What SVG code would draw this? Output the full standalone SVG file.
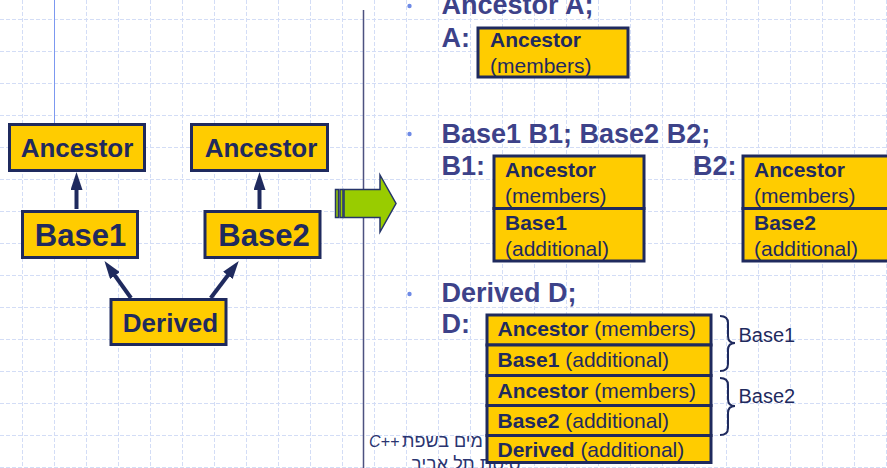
<svg xmlns="http://www.w3.org/2000/svg" width="887" height="468" viewBox="0 0 887 468">
<style>
.grid{stroke:#d3ddf6;stroke-width:1;stroke-dasharray:4 2;fill:none}
.node{fill:#ffcc00;stroke:#1f2a5e;stroke-width:3}
.nt{font-family:"Liberation Sans",Arial,sans-serif;font-weight:bold;fill:#1f2a5e;text-anchor:middle}
.h{font-family:"Liberation Sans",Arial,sans-serif;font-weight:bold;font-size:27px;fill:#3d4289}
.bt{font-family:"Liberation Sans",Arial,sans-serif;font-size:21px;fill:#1f2a5e}
.b{font-weight:bold}
.lbl{font-family:"Liberation Sans",Arial,sans-serif;font-size:20px;fill:#1f2a5e}
.foot{font-family:"Liberation Sans","DejaVu Sans",sans-serif;fill:#2a3470}
.conn{stroke:#1f2a5e;stroke-width:4;fill:none;marker-end:url(#head)}
.brace{stroke:#1f2a5e;stroke-width:2;fill:none}
.bullet{fill:#6e8ae6}
</style>
<defs>
<marker id="head" viewBox="0 0 18 12" refX="8" refY="6" markerWidth="18" markerHeight="12" markerUnits="userSpaceOnUse" orient="auto">
<path d="M0,0 L18,6 L0,12 z" fill="#1f2a5e"/>
</marker>
</defs>

<rect width="887" height="468" fill="#ffffff"/>

<!-- background grid -->
<path class="grid" d="M22.5 0V468M54.5 0V468M86.5 0V468M118.5 0V468M150.5 0V468M182.5 0V468M214.5 0V468M246.5 0V468M278.5 0V468M310.5 0V468M342.5 0V468M374.5 0V468M406.5 0V468M438.5 0V468M470.5 0V468M502.5 0V468M534.5 0V468M566.5 0V468M598.5 0V468M630.5 0V468M662.5 0V468M694.5 0V468M726.5 0V468M758.5 0V468M790.5 0V468M822.5 0V468M854.5 0V468M886.5 0V468
M0 19.5H887M0 51.5H887M0 83.5H887M0 115.5H887M0 147.5H887M0 179.5H887M0 211.5H887M0 243.5H887M0 275.5H887M0 307.5H887M0 339.5H887M0 371.5H887M0 403.5H887M0 435.5H887M0 467.5H887"/>

<!-- guide lines -->
<line x1="54.5" y1="0" x2="54.5" y2="123" stroke="#7c98f0" stroke-width="1"/>
<line x1="363.5" y1="10" x2="363.5" y2="468" stroke="#4d5180" stroke-width="1.5"/>

<!-- footer -->
<g id="footer">
<text class="foot" x="369" y="446.5" font-size="16" font-style="italic">C++</text>
<text class="foot" x="402" y="446.5" font-size="18">מים בשפת</text>
<text class="foot" x="411" y="470" font-size="18">סיטת תל אביב</text>
</g>

<!-- class hierarchy -->
<g id="connectors">
<line class="conn" x1="76.5" y1="209" x2="76.5" y2="182"/>
<line class="conn" x1="259.5" y1="209" x2="259.5" y2="182"/>
<line class="conn" x1="131" y1="298" x2="110.3" y2="269.1"/>
<line class="conn" x1="210.7" y1="298" x2="232.7" y2="269"/>
</g>
<g id="ancestor1">
<rect class="node" x="9.5" y="124.5" width="135" height="46"/>
<text class="nt" x="77" y="156.5" font-size="26">Ancestor</text>
</g>
<g id="ancestor2">
<rect class="node" x="191.5" y="124.5" width="136" height="46"/>
<text class="nt" x="261" y="156.5" font-size="26">Ancestor</text>
</g>
<g id="base1">
<rect class="node" x="22.5" y="211.5" width="115" height="46"/>
<text class="nt" x="80.5" y="246" font-size="31">Base1</text>
</g>
<g id="base2">
<rect class="node" x="205" y="211.5" width="115" height="46"/>
<text class="nt" x="264" y="246" font-size="31">Base2</text>
</g>
<g id="derived">
<rect class="node" x="111" y="299.5" width="115" height="45"/>
<text class="nt" x="170.5" y="331.5" font-size="26">Derived</text>
</g>

<!-- striped block arrow -->
<g id="arrow" stroke="#25346a" stroke-width="1.5" fill="#99cc00">
<rect x="335.5" y="189.5" width="3" height="28"/>
<rect x="340" y="189.5" width="3" height="28"/>
<path d="M344,189.5 H380 V175 L396,203.5 L380,232 V217.5 H344 z"/>
</g>

<!-- bullets and headings -->
<circle class="bullet" cx="409.5" cy="6" r="2.2"/>
<circle class="bullet" cx="409.5" cy="134" r="2.2"/>
<circle class="bullet" cx="409.5" cy="294" r="2.2"/>
<text class="h" x="441.5" y="14">Ancestor A;</text>
<text class="h" x="441.5" y="47">A:</text>
<text class="h" x="441.5" y="143">Base1 B1; Base2 B2;</text>
<text class="h" x="441.5" y="175">B1:</text>
<text class="h" x="693" y="175">B2:</text>
<text class="h" x="441.5" y="302">Derived D;</text>
<text class="h" x="441.5" y="333">D:</text>

<!-- object layouts -->
<g id="objA">
<rect class="node" x="478" y="28" width="150" height="49"/>
<text class="bt" x="490" y="47"><tspan class="b">Ancestor</tspan></text>
<text class="bt" x="490" y="73">(members)</text>
</g>
<g id="objB1">
<rect class="node" x="494" y="156" width="150" height="52.5"/>
<rect class="node" x="494" y="208.5" width="150" height="52.5"/>
<text class="bt" x="505" y="177"><tspan class="b">Ancestor</tspan></text>
<text class="bt" x="505" y="203">(members)</text>
<text class="bt" x="505" y="229.5"><tspan class="b">Base1</tspan></text>
<text class="bt" x="505" y="256">(additional)</text>
</g>
<g id="objB2">
<rect class="node" x="743" y="156" width="150" height="52.5"/>
<rect class="node" x="743" y="208.5" width="150" height="52.5"/>
<text class="bt" x="754" y="177"><tspan class="b">Ancestor</tspan></text>
<text class="bt" x="754" y="203">(members)</text>
<text class="bt" x="754" y="229.5"><tspan class="b">Base2</tspan></text>
<text class="bt" x="754" y="256">(additional)</text>
</g>
<g id="objD">
<rect class="node" x="487" y="315" width="224" height="30"/>
<rect class="node" x="487" y="345" width="224" height="30.5"/>
<rect class="node" x="487" y="375.5" width="224" height="30"/>
<rect class="node" x="487" y="405.5" width="224" height="30"/>
<rect class="node" x="487" y="435.5" width="224" height="27"/>
<text class="bt" x="497.5" y="336"><tspan class="b">Ancestor</tspan> (members)</text>
<text class="bt" x="497.5" y="366.5"><tspan class="b">Base1</tspan> (additional)</text>
<text class="bt" x="497.5" y="398"><tspan class="b">Ancestor</tspan> (members)</text>
<text class="bt" x="497.5" y="428"><tspan class="b">Base2</tspan> (additional)</text>
<text class="bt" x="497.5" y="457"><tspan class="b">Derived</tspan> (additional)</text>
</g>
<g id="braces">
<path class="brace" d="M720,316 Q728,316 728,323 L728,336 Q728,343 735,343 Q728,343 728,350 L728,364 Q728,371 720,371"/>
<path class="brace" d="M720,378 Q728,378 728,385 L728,399 Q728,406 735,406 Q728,406 728,413 L728,428 Q728,435 720,435"/>
<text class="lbl" x="738.5" y="342">Base1</text>
<text class="lbl" x="738.5" y="402.5">Base2</text>
</g>
</svg>
